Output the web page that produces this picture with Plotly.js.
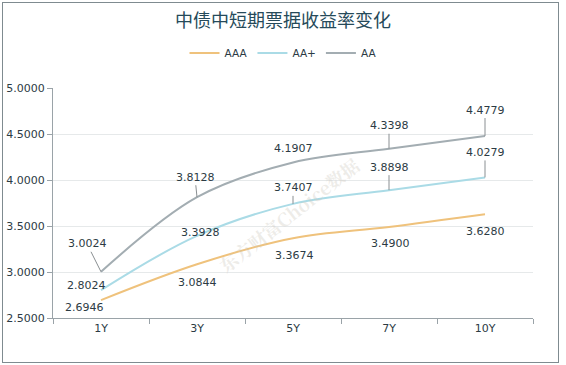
<!DOCTYPE html>
<html>
<head>
<meta charset="utf-8">
<script src="https://cdn.plot.ly/plotly-3.0.1.min.js"></script>
<style>
html,body{margin:0;padding:0;background:#fff;}
#wrap{position:relative;width:566px;height:365px;}
#chart{position:absolute;left:0;top:0;width:566px;height:365px;}
#frame{position:absolute;left:2px;top:2px;width:555px;height:359px;border:1px solid #7f8b90;pointer-events:none;}
</style>
</head>
<body>
<div id="wrap"><div id="chart"></div><div id="frame"></div></div>
<script>
const categories = ['1Y', '3Y', '5Y', '7Y', '10Y'];
const seriesNames = ['AAA', 'AA+', 'AA'];
const aaa = [2.6946, 3.0844, 3.3674, 3.4900, 3.6280];
const aaPlus = [2.8024, 3.3928, 3.7407, 3.8898, 4.0279];
const aa = [3.0024, 3.8128, 4.1907, 4.3398, 4.4779];
const yTicks = [2.5, 3.0, 3.5, 4.0, 4.5, 5.0];

const colors = ['#efc27c', '#aadbe6', '#a3adb2'];
const allSeries = [aaa, aaPlus, aa];

const traces = allSeries.map((vals, i) => ({
  x: categories, y: vals, name: seriesNames[i], type: 'scatter', mode: 'lines',
  line: {color: colors[i], width: 2, shape: 'spline', smoothing: 1},
  hoverinfo: 'skip'
}));

// label offsets (pixels) per series per category: [ax, ay, leader]
const offAAA = [[-17, 7, false], [0, 18, false], [1, 17, false], [1, 17, false], [0, 17, false]];
const offAAp = [[-15, -5, false], [3, -3, false], [0, -16, true], [0, -23, true], [0, -25, true]];
const offAA = [[-14, -28, true], [-2, -20, true], [0, -14, false], [0, -23, true], [0, -26, true]];
const offs = [offAAA, offAAp, offAA];

const textColor = '#2c3b44';
const annotations = [];
allSeries.forEach((vals, s) => {
  vals.forEach((v, i) => {
    const o = offs[s][i];
    const a = {x: categories[i], y: v, xref: 'x', yref: 'y', text: v.toFixed(4),
      font: {family: 'DejaVu Sans, Verdana, sans-serif', size: 11, color: textColor}};
    if (o[2]) {
      Object.assign(a, {showarrow: true, arrowhead: 0, arrowwidth: 1, arrowcolor: '#8a8f92', ax: o[0], ay: o[1], standoff: 0});
    } else {
      Object.assign(a, {showarrow: false, xshift: o[0], yshift: -o[1]});
    }
    annotations.push(a);
  });
});
annotations.push({
  xref: 'paper', yref: 'paper', x: 0.49, y: 0.45, showarrow: false,
  text: '<b>东方财富Choice数据</b>', textangle: -38,
  font: {family: 'Noto Serif CJK SC, DejaVu Serif, serif', size: 18, color: 'rgba(205,200,190,0.35)'}
});

const layout = {
  width: 566, height: 365,
  margin: {l: 53, r: 33, t: 88, b: 47},
  paper_bgcolor: '#ffffff', plot_bgcolor: '#ffffff',
  title: {text: '中债中短期票据收益率变化', x: 0.5, xref: 'container', y: 1 - 21/365, yref: 'container', yanchor: 'middle',
    font: {family: 'Noto Sans CJK SC, sans-serif', size: 18, color: '#264a5a'}},
  showlegend: true,
  legend: {orientation: 'h', x: 0.5, xanchor: 'center', xref: 'container', y: 1 - 53/365, yanchor: 'middle', yref: 'container',
    font: {family: 'DejaVu Sans, sans-serif', size: 10.5, color: textColor}, itemwidth: 30, tracegroupgap: 0},
  xaxis: {type: 'category', categoryarray: categories, range: [-0.5, 4.5],
    showline: true, linecolor: '#9aa3a8', linewidth: 1, showgrid: false, zeroline: false,
    ticks: 'outside', tickson: 'boundaries', ticklen: 5, tickcolor: '#9aa3a8',
    tickfont: {family: 'DejaVu Sans, sans-serif', size: 11, color: textColor}},
  yaxis: {range: [2.5, 5.0], tickvals: yTicks, ticktext: yTicks.map(v => v.toFixed(4)),
    showline: true, linecolor: '#9aa3a8', linewidth: 1, showgrid: true, gridcolor: '#e6e9ea', zeroline: false,
    ticks: 'outside', ticklen: 5, tickcolor: '#9aa3a8',
    tickfont: {family: 'DejaVu Sans, sans-serif', size: 11, color: textColor}},
  annotations: annotations
};

Plotly.newPlot('chart', traces, layout, {displayModeBar: false, staticPlot: true});
</script>
</body>
</html>
